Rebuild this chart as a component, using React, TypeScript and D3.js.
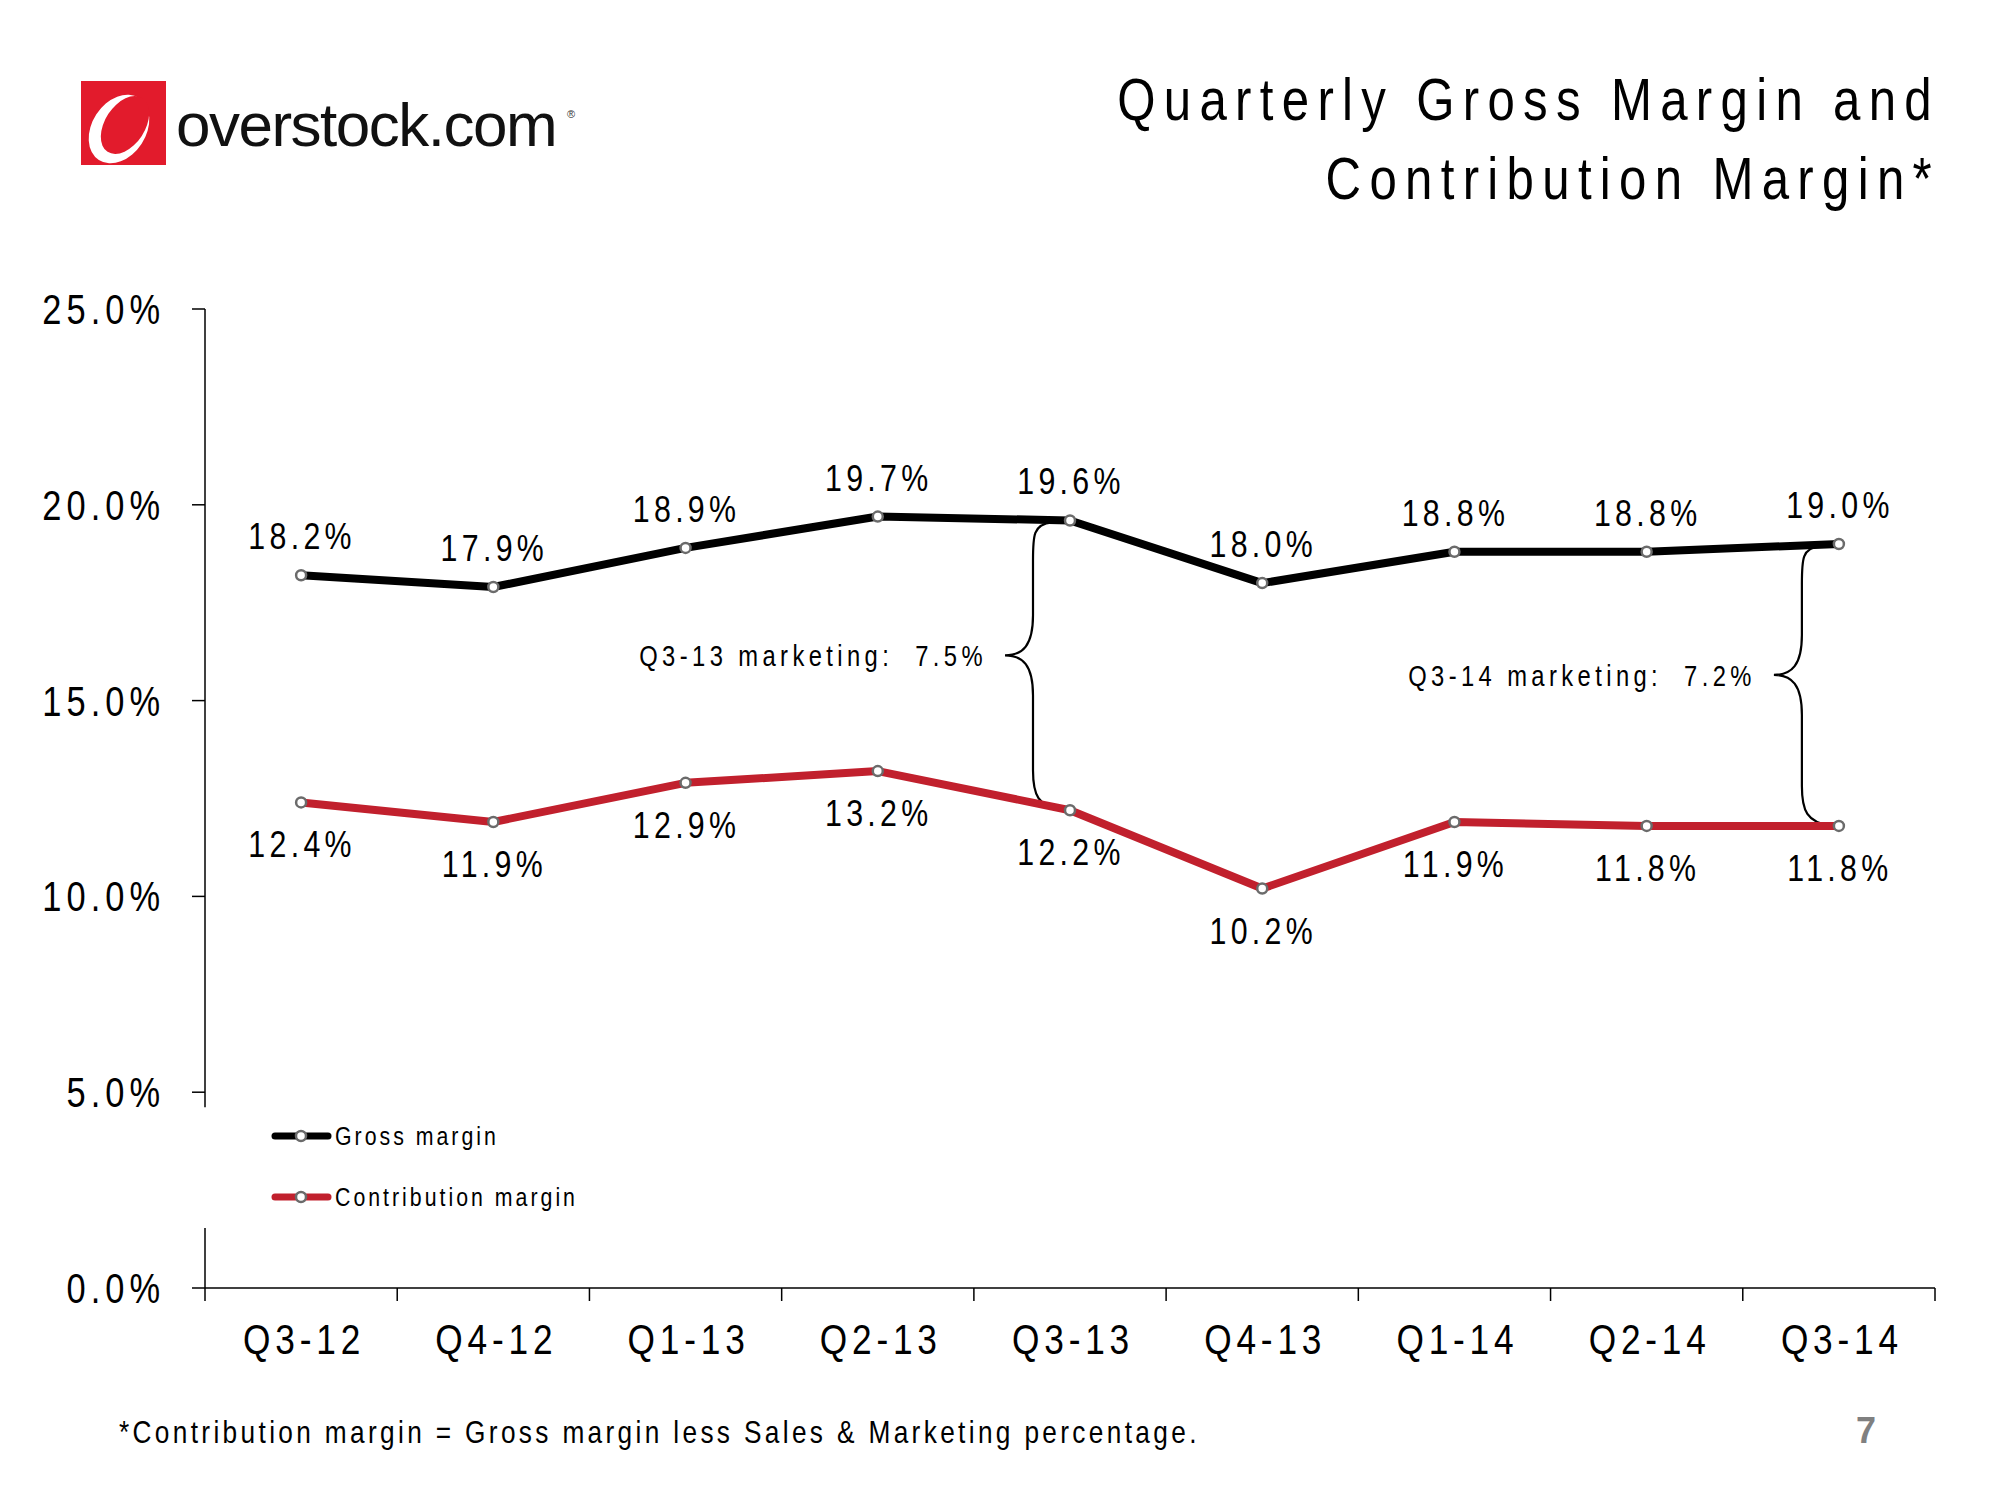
import * as d3 from "d3";

const width = 2000;
const height = 1500;

const quarters = ["Q3-12", "Q4-12", "Q1-13", "Q2-13", "Q3-13", "Q4-13", "Q1-14", "Q2-14", "Q3-14"];
const grossMargin = [18.2, 17.9, 18.9, 19.7, 19.6, 18.0, 18.8, 18.8, 19.0];
const contributionMargin = [12.4, 11.9, 12.9, 13.2, 12.2, 10.2, 11.9, 11.8, 11.8];
const yTicks = [0, 5, 10, 15, 20, 25];
// marketing brace annotations: quarter index + label
const braces = [
  { idx: 4, label: "Q3-13 marketing:  7.5%" },
  { idx: 8, label: "Q3-14 marketing:  7.2%" },
];

const font = "'Liberation Sans', Arial, sans-serif";
const RED = "#c1202d";
const NARROW = 0.82; // no Arial Narrow installed, squeeze Liberation Sans instead

const x = d3.scaleBand().domain(quarters).range([205, 1935]);
const y = d3.scaleLinear().domain([0, 25]).range([1288, 309]);
const cx = (q: string) => (x(q) as number) + x.bandwidth() / 2;

const line = d3.line<number>()
  .x((_, i) => cx(quarters[i]))
  .y(d => y(d));

const bracePath = (px: number, yTop: number, yBot: number) => {
  const vx = px - 37;
  const tx = px - 65;
  const ym = (yTop + yBot) / 2 - 10;
  return `M${px - 18},${yTop + 2} C${vx},${yTop + 4} ${vx},${yTop + 15} ${vx},${yTop + 40}` +
    ` L${vx},${ym - 40} C${vx},${ym - 10} ${vx - 10},${ym} ${tx},${ym}` +
    ` C${vx - 10},${ym} ${vx},${ym + 10} ${vx},${ym + 40}` +
    ` L${vx},${yBot - 40} C${vx},${yBot - 15} ${vx + 5},${yBot - 4} ${px - 8},${yBot}`;
};

type NTextProps = {
  x: number; y: number; size: number; spacing?: number;
  anchor?: "start" | "middle" | "end"; fill?: string; children: React.ReactNode;
};

// narrow text: horizontally squeezed, spacing given in screen px
const NText = ({ x, y, size, spacing = 0, anchor = "start", fill = "#000", children }: NTextProps) => (
  <text transform={`translate(${x},${y}) scale(${NARROW},1)`} fontSize={size}
    letterSpacing={spacing / NARROW} textAnchor={anchor} fill={fill}
    style={{ whiteSpace: "pre" }}>{children}</text>
);

const Marker = ({ px, py }: { px: number; py: number }) => (
  <circle cx={px} cy={py} r={5} fill="#fff" stroke="#6b6b6b" strokeWidth={2.5} />
);

export default function App() {
  const series = [
    { name: "Gross margin", values: grossMargin, color: "#000" },
    { name: "Contribution margin", values: contributionMargin, color: RED },
  ];
  return (
    <svg width={width} height={height} viewBox={`0 0 ${width} ${height}`}
      style={{ display: "block", background: "#fff", position: "absolute", left: 0, top: 0 }}
      fontFamily={font}>
      <rect width={width} height={height} fill="#fff" />

      {/* logo */}
      <g>
        <rect x={81} y={81} width={85} height={84} fill="#e21b2c" />
        <ellipse cx={119} cy={129} rx={27} ry={37} transform="rotate(33 119 129)" fill="#fff" />
        <ellipse cx={125} cy={125} rx={20} ry={32} transform="rotate(33 125 125)" fill="#e21b2c" />
        <text x={176} y={146} fontSize={62} letterSpacing={-1.5} fill="#111">overstock.com</text>
        <text x={567} y={118} fontSize={11} fill="#333">®</text>
      </g>

      {/* title */}
      <NText x={1940} y={120} size={60} spacing={8.3} anchor="end">Quarterly Gross Margin and</NText>
      <NText x={1940} y={199} size={60} spacing={8.3} anchor="end">Contribution Margin*</NText>

      {/* y axis, broken below 5% */}
      <g stroke="#000" strokeWidth={1.5}>
        <line x1={205} x2={205} y1={y(25)} y2={y(5) + 15} />
        <line x1={205} x2={205} y1={1228} y2={y(0)} />
        {yTicks.map(t => (
          <line key={t} x1={192} x2={205} y1={y(t)} y2={y(t)} />
        ))}
      </g>
      {yTicks.map(t => (
        <NText key={t} x={165} y={y(t) + 15} size={42} spacing={5} anchor="end">{t.toFixed(1)}%</NText>
      ))}

      {/* x axis */}
      <g stroke="#000" strokeWidth={1.5}>
        <line x1={205} x2={1935} y1={y(0)} y2={y(0)} />
        {quarters.map(q => (
          <line key={q} x1={x(q)} x2={x(q)} y1={y(0)} y2={y(0) + 13} />
        ))}
        <line x1={1935} x2={1935} y1={y(0)} y2={y(0) + 13} />
      </g>
      {quarters.map(q => (
        <NText key={q} x={cx(q) + 3} y={1354} size={43} spacing={4.8} anchor="middle">{q}</NText>
      ))}

      {/* braces */}
      {braces.map(b => {
        const px = cx(quarters[b.idx]);
        const yTop = y(grossMargin[b.idx]);
        const yBot = y(contributionMargin[b.idx]);
        const ym = (yTop + yBot) / 2 - 10;
        return (
          <g key={b.label}>
            <path d={bracePath(px, yTop, yBot)} fill="none" stroke="#000" strokeWidth={2.2} />
            <NText x={px - 83} y={ym + 11} size={29} spacing={4.4} anchor="end">{b.label}</NText>
          </g>
        );
      })}

      {/* lines */}
      {series.map(s => (
        <path key={s.name} d={line(s.values) ?? ""} fill="none" stroke={s.color}
          strokeWidth={8} strokeLinejoin="round" />
      ))}
      {series.map(s => s.values.map((v, i) => (
        <Marker key={s.name + i} px={cx(quarters[i])} py={y(v)} />
      )))}

      {/* data labels */}
      {grossMargin.map((v, i) => (
        <NText key={"g" + i} x={cx(quarters[i]) + 1} y={y(v) - 26} size={37} spacing={4.3} anchor="middle">
          {v.toFixed(1)}%
        </NText>
      ))}
      {contributionMargin.map((v, i) => (
        <NText key={"c" + i} x={cx(quarters[i]) + 1} y={y(v) + 55} size={37} spacing={4.3} anchor="middle">
          {v.toFixed(1)}%
        </NText>
      ))}

      {/* legend */}
      {series.map((s, i) => {
        const ly = 1136 + i * 61;
        return (
          <g key={s.name}>
            <line x1={275} x2={328} y1={ly} y2={ly} stroke={s.color} strokeWidth={7} strokeLinecap="round" />
            <Marker px={301} py={ly} />
            <NText x={335} y={ly + 9} size={26} spacing={3}>{s.name}</NText>
          </g>
        );
      })}

      {/* footer */}
      <NText x={119} y={1443} size={32} spacing={3.35}>
        *Contribution margin = Gross margin less Sales &amp; Marketing percentage.
      </NText>
      <text x={1866} y={1443} fontSize={36} fontWeight="bold" textAnchor="middle" fill="#808080">7</text>
    </svg>
  );
}
